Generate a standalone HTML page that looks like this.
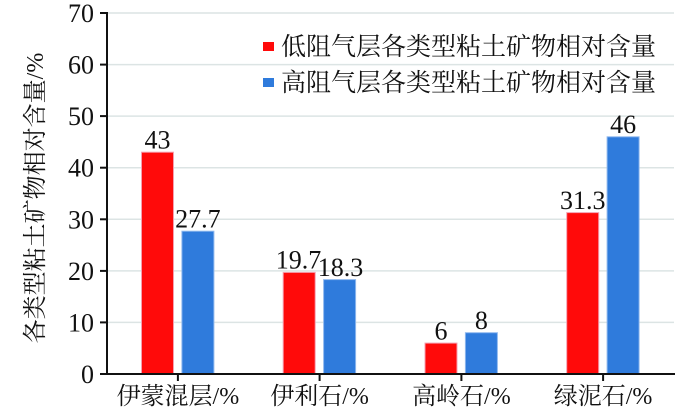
<!DOCTYPE html>
<html><head><meta charset="utf-8"><style>
html,body{margin:0;padding:0;background:#fff;}
svg{display:block;}
.num{font-family:"Liberation Serif","Times New Roman",Times,serif;font-size:26px;fill:#111;}
.cjk{font-family:"Liberation Serif","Noto Serif CJK SC","Noto Sans CJK SC",serif;font-size:24px;fill:#111;}
</style></head><body>
<svg width="700" height="420" viewBox="0 0 700 420" xmlns="http://www.w3.org/2000/svg">
<!-- gridlines -->
<g stroke="#dce4e4" stroke-width="1.5">
<line x1="107" x2="674" y1="322.4" y2="322.4"/>
<line x1="107" x2="674" y1="270.9" y2="270.9"/>
<line x1="107" x2="674" y1="219.3" y2="219.3"/>
<line x1="107" x2="674" y1="167.7" y2="167.7"/>
<line x1="107" x2="674" y1="116.1" y2="116.1"/>
<line x1="107" x2="674" y1="64.6" y2="64.6"/>
<line x1="107" x2="674" y1="13" y2="13"/>
</g>
<!-- bars -->
<g stroke-width="1">
<rect x="141.5" y="152.2" width="32" height="221.8" fill="#ff0a0a" stroke="#f4a0b0"/>
<rect x="181.9" y="231.2" width="32" height="142.8" fill="#2f7bdc" stroke="#8fb8ee"/>
<rect x="283.2" y="272.4" width="32" height="101.6" fill="#ff0a0a" stroke="#f4a0b0"/>
<rect x="323.6" y="279.6" width="32" height="94.4" fill="#2f7bdc" stroke="#8fb8ee"/>
<rect x="425" y="343.1" width="32" height="30.9" fill="#ff0a0a" stroke="#f4a0b0"/>
<rect x="465.4" y="332.7" width="32" height="41.3" fill="#2f7bdc" stroke="#8fb8ee"/>
<rect x="566.7" y="212.6" width="32" height="161.4" fill="#ff0a0a" stroke="#f4a0b0"/>
<rect x="607.1" y="136.8" width="32" height="237.2" fill="#2f7bdc" stroke="#8fb8ee"/>
</g>
<!-- axes -->
<g stroke="#111" stroke-width="2">
<line x1="107" x2="107" y1="12" y2="375"/>
<line x1="106" x2="675" y1="374" y2="374"/>
<line x1="100" x2="107" y1="374" y2="374"/>
<line x1="100" x2="107" y1="322.4" y2="322.4"/>
<line x1="100" x2="107" y1="270.9" y2="270.9"/>
<line x1="100" x2="107" y1="219.3" y2="219.3"/>
<line x1="100" x2="107" y1="167.7" y2="167.7"/>
<line x1="100" x2="107" y1="116.1" y2="116.1"/>
<line x1="100" x2="107" y1="64.6" y2="64.6"/>
<line x1="100" x2="107" y1="13" y2="13"/>
<line x1="177.9" x2="177.9" y1="374" y2="381"/>
<line x1="319.6" x2="319.6" y1="374" y2="381"/>
<line x1="461.4" x2="461.4" y1="374" y2="381"/>
<line x1="603.1" x2="603.1" y1="374" y2="381"/>
</g>
<!-- y tick labels -->
<g class="num" text-anchor="end">
<text x="94" y="383">0</text>
<text x="94" y="331.4">10</text>
<text x="94" y="279.9">20</text>
<text x="94" y="228.3">30</text>
<text x="94" y="176.7">40</text>
<text x="94" y="125.1">50</text>
<text x="94" y="73.6">60</text>
<text x="94" y="22">70</text>
</g>
<!-- value labels -->
<g class="num" text-anchor="middle">
<text x="157.5" y="148.5">43</text>
<text x="197.9" y="227.5">27.7</text>
<text x="298.5" y="268.7">19.7</text>
<text x="340.5" y="275.9">18.3</text>
<text x="441" y="339.4">6</text>
<text x="481.4" y="329">8</text>
<text x="582.7" y="208.9">31.3</text>
<text x="623.1" y="133.1">46</text>
</g>
<!-- category labels -->
<g class="cjk" text-anchor="middle">
<text x="177.9" y="404">伊蒙混层/%</text>
<text x="319.6" y="404">伊利石/%</text>
<text x="461.4" y="404">高岭石/%</text>
<text x="603.1" y="404">绿泥石/%</text>
</g>
<!-- legend -->
<rect x="263" y="42" width="11" height="9" fill="#ff0a0a"/>
<rect x="263" y="78" width="11" height="9" fill="#2f7bdc"/>
<text class="cjk" x="281" y="55" style="font-size:25px">低阻气层各类型粘土矿物相对含量</text>
<text class="cjk" x="281" y="91" style="font-size:25px">高阻气层各类型粘土矿物相对含量</text>
<!-- y axis title -->
<text class="cjk" transform="translate(43,198) rotate(-90)" text-anchor="middle" style="font-size:24px">各类型粘土矿物相对含量/%</text>
</svg>
</body></html>
